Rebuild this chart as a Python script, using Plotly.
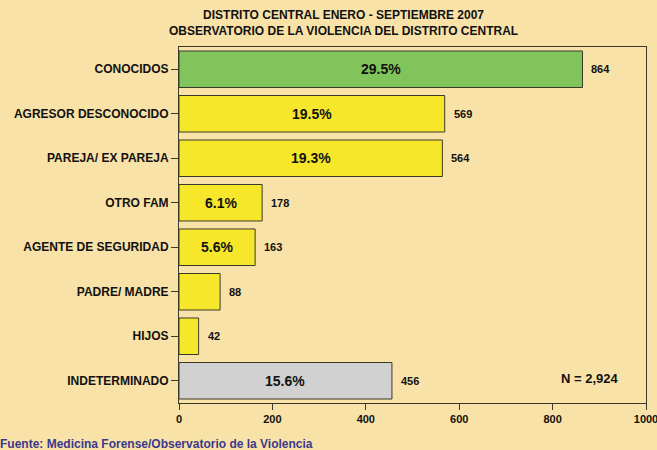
import plotly.graph_objects as go

# datos
categorias = ['CONOCIDOS', 'AGRESOR DESCONOCIDO', 'PAREJA/ EX PAREJA', 'OTRO FAM',
              'AGENTE DE SEGURIDAD', 'PADRE/ MADRE', 'HIJOS', 'INDETERMINADO']
casos = [864, 569, 564, 178, 163, 88, 42, 456]
porcentajes = ['29.5%', '19.5%', '19.3%', '6.1%', '5.6%', '', '', '15.6%']
colores = ['#82C45C', '#F7E72B', '#F7E72B', '#F7E72B', '#F7E72B', '#F7E72B', '#F7E72B', '#D1D1D1']
total = 2924

fondo = '#F9E2A7'

fig = go.Figure(go.Bar(
    y=categorias,
    x=casos,
    orientation='h',
    marker=dict(color=colores, line=dict(color='#3A3A2A', width=1)),
    width=0.82,
    hoverinfo='x+y',
))

# porcentajes dentro de las barras
for c, v, p in zip(categorias, casos, porcentajes):
    if p:
        fig.add_annotation(x=v / 2, y=c, text=f'<b>{p}</b>', showarrow=False,
                           font=dict(size=14, color='#111111'))
    # valor al lado de la barra
    fig.add_annotation(x=v, y=c, text=f'<b>{v}</b>', showarrow=False, xanchor='left',
                       xshift=7, font=dict(size=11, color='#111111'))

fig.add_annotation(x=0.88, y=7, xref='paper', xanchor='center', text=f'<b>N = {total:,}</b>',
                   showarrow=False, yshift=2, font=dict(size=13, color='#111111'))

# titulo
fig.add_annotation(x=0.353, y=1.019, xref='paper', yref='paper', xanchor='center', yanchor='bottom',
                   text='<b>DISTRITO CENTRAL ENERO - SEPTIEMBRE 2007<br>'
                        'OBSERVATORIO DE LA VIOLENCIA DEL DISTRITO CENTRAL</b>',
                   showarrow=False, font=dict(size=12, color='#111111'))

# fuente
fig.add_annotation(x=-181 / 467, y=-49.5 / 356, xref='paper', yref='paper', xanchor='left', yanchor='bottom',
                   text='<b>Fuente: Medicina Forense/Observatorio de la Violencia</b>',
                   showarrow=False, font=dict(size=12, color='#3A3A8C'))

fig.update_layout(
    width=657, height=450,
    paper_bgcolor=fondo, plot_bgcolor=fondo,
    margin=dict(l=179, r=11, t=47, b=47, autoexpand=False),
    font=dict(family='Liberation Sans, Arial, sans-serif', size=11, color='#111111'),
    showlegend=False,
)

fig.update_xaxes(range=[0, 1000], tickvals=[0, 200, 400, 600, 800, 1000],
                 ticktext=['<b>0</b>', '<b>200</b>', '<b>400</b>', '<b>600</b>', '<b>800</b>', '<b>1000</b>'],
                 showgrid=False, zeroline=False, showline=True, linecolor='#3A3A2A', linewidth=1,
                 mirror=True, ticks='outside', ticklen=6, tickcolor='#3A3A2A', tickfont=dict(size=11),
                 ticklabeloverflow='allow', automargin=False)
fig.update_yaxes(autorange=False, range=[7.5, -0.5], categoryorder='array', categoryarray=categorias,
                 tickvals=categorias, ticktext=[f'<b>{c}</b>' for c in categorias],
                 showgrid=False, zeroline=False, showline=True, linecolor='#3A3A2A', linewidth=1,
                 mirror=True, ticks='outside', ticklen=7, tickcolor='#3A3A2A', tickfont=dict(size=12),
                 automargin=False)

# quitar el margen del body para que la figura ocupe toda la ventana
fig.write_html('out.html', config={'displayModeBar': False},
               post_script="document.body.style.margin='0';")
